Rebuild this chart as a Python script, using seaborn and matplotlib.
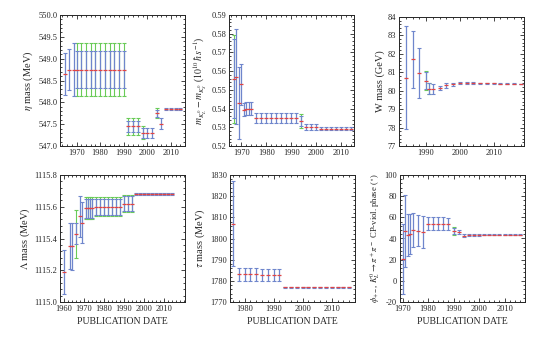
"""History plots of particle property averages versus publication date."""

import matplotlib
matplotlib.use("Agg")
import matplotlib.pyplot as plt
from matplotlib.ticker import AutoMinorLocator, FormatStrFormatter
import numpy as np
import pandas as pd
import seaborn as sns

nan = np.nan

# --- eta mass (MeV) ---
eta_years = [1965, 1967, 1969, 1970, 1972, 1974, 1976, 1978, 1980, 1982, 1984, 1986, 1988, 1990,
             1992, 1994, 1996, 1998, 2000, 2002, 2004, 2006, 2008, 2010, 2012, 2014]
eta_vals = [548.64, 548.75, 548.75, 548.75, 548.75, 548.75, 548.75, 548.75, 548.75, 548.75, 548.75,
            548.75, 548.75, 548.75, 547.45, 547.45, 547.45, 547.30, 547.30, 547.30, 547.75, 547.51,
            547.853, 547.853, 547.853, 547.853]
eta_err = [0.48, 0.47, 0.60, 0.42, 0.42, 0.42, 0.42, 0.42, 0.42, 0.42, 0.42, 0.42, 0.42, 0.42,
           0.12, 0.12, 0.12, 0.12, 0.12, 0.12, 0.08, 0.12, 0.024, 0.024, 0.024, 0.024]
eta_err_sf = [nan, nan, nan, 0.60, 0.60, 0.60, 0.60, 0.60, 0.60, 0.60, 0.60, 0.60, 0.60, 0.60,
              0.19, 0.19, 0.19, 0.15, nan, nan, 0.12, nan, nan, nan, nan, nan]

# --- K_L - K_S mass difference (10^10 hbar s^-1) ---
dmk_years = [1967, 1968, 1969, 1970, 1971, 1972, 1973, 1974, 1976, 1978, 1980, 1982, 1984, 1986,
             1988, 1990, 1992, 1994, 1996, 1998, 2000, 2002, 2004, 2006, 2008, 2010, 2012, 2014]
dmk_vals = [0.556, 0.557, 0.543, 0.553, 0.5395, 0.540, 0.540, 0.540, 0.535, 0.535, 0.535, 0.535,
            0.535, 0.535, 0.535, 0.535, 0.535, 0.5333, 0.5301, 0.5301, 0.5301, 0.5292, 0.5292,
            0.5292, 0.5292, 0.5292, 0.5292, 0.5292]
dmk_err = [0.021, 0.0255, 0.019, 0.011, 0.0035, 0.0035, 0.0035, 0.0035, 0.0025, 0.0025, 0.0025,
           0.0025, 0.0025, 0.0025, 0.0025, 0.0025, 0.0025, 0.0027, 0.0014, 0.0014, 0.0014,
           0.0009, 0.0009, 0.0009, 0.0009, 0.0009, 0.0009, 0.0009]
dmk_err_sf = [0.0235, nan, nan, nan, nan, nan, nan, nan, nan, nan, nan, nan, nan, nan, nan, nan,
              nan, 0.0036, nan, nan, nan, nan, nan, nan, nan, nan, nan, nan]

# --- W mass (GeV) ---
w_years = [1984, 1986, 1988, 1990, 1991, 1992, 1994, 1996, 1998, 2000, 2002, 2004, 2006, 2008,
           2010, 2012, 2014, 2016, 2018]
w_vals = [80.7, 81.7, 80.95, 80.55, 80.1, 80.1, 80.15, 80.3, 80.35, 80.42, 80.42, 80.42, 80.40,
          80.40, 80.40, 80.385, 80.385, 80.385, 80.379]
w_err = [2.8, 1.55, 1.35, 0.45, 0.3, 0.28, 0.1, 0.13, 0.09, 0.056, 0.039, 0.038, 0.029, 0.025,
         0.023, 0.015, 0.015, 0.015, 0.012]
w_err_sf = [nan, nan, nan, 0.5, 0.3, nan, nan, nan, nan, nan, nan, nan, nan, nan, nan, nan, nan,
            nan, nan]

# --- Lambda mass (MeV) ---
lam_years = [1960, 1963, 1964, 1966, 1968, 1969, 1971, 1972, 1973, 1974, 1976, 1978, 1980, 1982,
             1984, 1986, 1988, 1990, 1992, 1994, 1996, 1998, 2000, 2002, 2004, 2006, 2008, 2010,
             2012, 2014]
lam_vals = [1115.19, 1115.35, 1115.35, 1115.43, 1115.54, 1115.50, 1115.59, 1115.59, 1115.59,
            1115.59, 1115.60, 1115.60, 1115.60, 1115.60, 1115.60, 1115.60, 1115.60, 1115.62,
            1115.62, 1115.62, 1115.683, 1115.683, 1115.683, 1115.683, 1115.683, 1115.683,
            1115.683, 1115.683, 1115.683, 1115.683]
lam_err = [0.14, 0.145, 0.15, 0.065, 0.13, 0.13, 0.06, 0.06, 0.06, 0.06, 0.05, 0.05, 0.05, 0.05,
           0.05, 0.05, 0.05, 0.045, 0.045, 0.045, 0.006, 0.006, 0.006, 0.006, 0.006, 0.006, 0.006,
           0.006, 0.006, 0.006]
lam_err_sf = [nan, nan, nan, 0.15, nan, nan, 0.07, 0.07, 0.07, 0.07, 0.06, 0.06, 0.06, 0.06,
              0.06, 0.06, 0.06, 0.055, 0.055, 0.055, nan, nan, nan, nan, nan, nan, nan, nan,
              nan, nan]

# --- tau mass (MeV) ---
tau_years = [1976, 1978, 1980, 1982, 1984, 1986, 1988, 1990, 1992, 1994, 1996, 1998, 2000, 2002,
             2004, 2006, 2008, 2010, 2012, 2014, 2016]
tau_vals = [1807.0, 1783.0, 1783.0, 1783.0, 1783.0, 1782.6, 1782.6, 1782.6, 1782.6, 1776.9,
            1776.9, 1776.9, 1776.9, 1776.9, 1776.9, 1776.9, 1776.9, 1776.9, 1776.9, 1776.9, 1776.9]
tau_err = [20.0, 3.2, 3.2, 3.2, 3.2, 2.9, 2.9, 2.9, 2.9, 0.3, 0.3, 0.3, 0.3, 0.3, 0.3, 0.3, 0.2,
           0.16, 0.16, 0.12, 0.12]
tau_err_sf = [nan] * len(tau_years)

# --- phi(+-) CP-violation phase (degrees) ---
phi_years = [1970, 1971, 1972, 1973, 1974, 1976, 1978, 1980, 1982, 1984, 1986, 1988, 1990, 1992,
             1994, 1996, 1998, 2000, 2002, 2004, 2006, 2008, 2010, 2012, 2014, 2016]
phi_vals = [21.0, 47.0, 43.0, 44.0, 48.0, 47.5, 46.0, 54.0, 54.0, 54.0, 54.0, 53.8, 47.0, 46.0,
            42.6, 43.5, 43.5, 43.5, 43.5, 43.5, 43.5, 43.5, 43.5, 43.5, 43.5, 43.5]
phi_err = [33.0, 34.0, 20.0, 19.0, 16.0, 14.5, 15.0, 6.0, 6.0, 6.0, 6.0, 6.0, 2.8, 2.0, 1.5,
           0.7, 0.7, 0.7, 0.6, 0.6, 0.6, 0.6, 0.6, 0.6, 0.6, 0.6]
phi_err_sf = [nan, nan, nan, nan, nan, nan, nan, nan, nan, nan, nan, nan, 3.5, nan, nan, nan,
              nan, nan, nan, nan, nan, nan, nan, nan, nan, nan]

BLUE = "#6f86cc"
GREEN = "#6acb58"
RED = "#e04545"


def draw_panel(ax, years, vals, err, err_sf, xlim, xticks, ylim, yticks, yfmt, ylabel,
               xlabel=None, ylabel_size=7.5):
    years = np.asarray(years, float)
    vals = np.asarray(vals, float)
    sf = np.asarray(err_sf, float)
    ok = ~np.isnan(sf)
    if ok.any():
        ax.errorbar(years[ok], vals[ok], yerr=sf[ok], fmt="none", ecolor=GREEN,
                    elinewidth=0.8, capsize=1.6, capthick=0.8, zorder=2)
    ax.errorbar(years, vals, yerr=err, fmt="none", ecolor=BLUE, elinewidth=0.9,
                capsize=1.6, capthick=0.8, zorder=3)
    df = pd.DataFrame({"year": years, "value": vals})
    sns.scatterplot(data=df, x="year", y="value", ax=ax, marker="_", color=RED,
                    s=9, linewidth=0.9, zorder=4, legend=False)

    ax.set_xlim(*xlim)
    ax.set_ylim(*ylim)
    ax.set_xticks(xticks)
    ax.set_yticks(yticks)
    ax.yaxis.set_major_formatter(FormatStrFormatter(yfmt))
    ax.xaxis.set_minor_locator(AutoMinorLocator(5))
    ax.yaxis.set_minor_locator(AutoMinorLocator(5))
    ax.tick_params(which="both", direction="in", top=True, right=True,
                   labelsize=6, width=0.6, pad=2)
    ax.tick_params(which="major", length=3)
    ax.tick_params(which="minor", length=1.5)
    for s in ax.spines.values():
        s.set_linewidth(0.7)
    ax.set_ylabel(ylabel, fontsize=ylabel_size, labelpad=2)
    ax.set_xlabel(xlabel if xlabel else "", fontsize=7, labelpad=3)


sns.set_theme(style="ticks")
plt.rcParams["font.family"] = ["Liberation Serif", "DejaVu Serif"]
plt.rcParams["mathtext.fontset"] = "stix"

fig = plt.figure(figsize=(5.45, 3.45), dpi=100)
W, H = 545, 345
rects = [(60, 15, 131), (229, 15, 131), (399, 17, 129), (60, 175, 127), (230, 175, 127),
         (400, 175, 127)]
axes = [fig.add_axes([x0 / W, 1 - (y0 + h) / H, 125 / W, h / H]) for x0, y0, h in rects]

draw_panel(axes[0], eta_years, eta_vals, eta_err, eta_err_sf, (1963, 2016),
           [1970, 1980, 1990, 2000, 2010], (547.0, 550.0), np.arange(547.0, 550.01, 0.5),
           "%.1f", r"$\eta$ mass (MeV)")
draw_panel(axes[1], dmk_years, dmk_vals, dmk_err, dmk_err_sf, (1965, 2015),
           [1970, 1980, 1990, 2000, 2010], (0.52, 0.59), np.arange(0.52, 0.5901, 0.01),
           "%.2f", r"$m_{K^0_L} - m_{K^0_S}$ ($10^{10}\,\hbar\,s^{-1}$)", ylabel_size=7)
draw_panel(axes[2], w_years, w_vals, w_err, w_err_sf, (1982, 2019),
           [1990, 2000, 2010], (77, 84), np.arange(77, 84.1, 1), "%d", "W mass (GeV)")
draw_panel(axes[3], lam_years, lam_vals, lam_err, lam_err_sf, (1958, 2020.5),
           [1960, 1970, 1980, 1990, 2000, 2010], (1115.0, 1115.8),
           np.arange(1115.0, 1115.81, 0.2), "%.1f", r"$\Lambda$ mass (MeV)",
           "PUBLICATION DATE")
draw_panel(axes[4], tau_years, tau_vals, tau_err, tau_err_sf, (1975, 2018),
           [1980, 1990, 2000, 2010], (1770, 1830), np.arange(1770, 1831, 10), "%d",
           r"$\tau$ mass (MeV)", "PUBLICATION DATE")
draw_panel(axes[5], phi_years, phi_vals, phi_err, phi_err_sf, (1969, 2018),
           [1970, 1980, 1990, 2000, 2010], (-20, 100), np.arange(-20, 101, 20), "%d",
           r"$\phi_{+-}$, $K^0_L \to \pi^+\pi^-$ CP-viol. phase ($^\circ$)",
           "PUBLICATION DATE", ylabel_size=6.2)

fig.savefig("out.png", dpi=100)
plt.close(fig)
